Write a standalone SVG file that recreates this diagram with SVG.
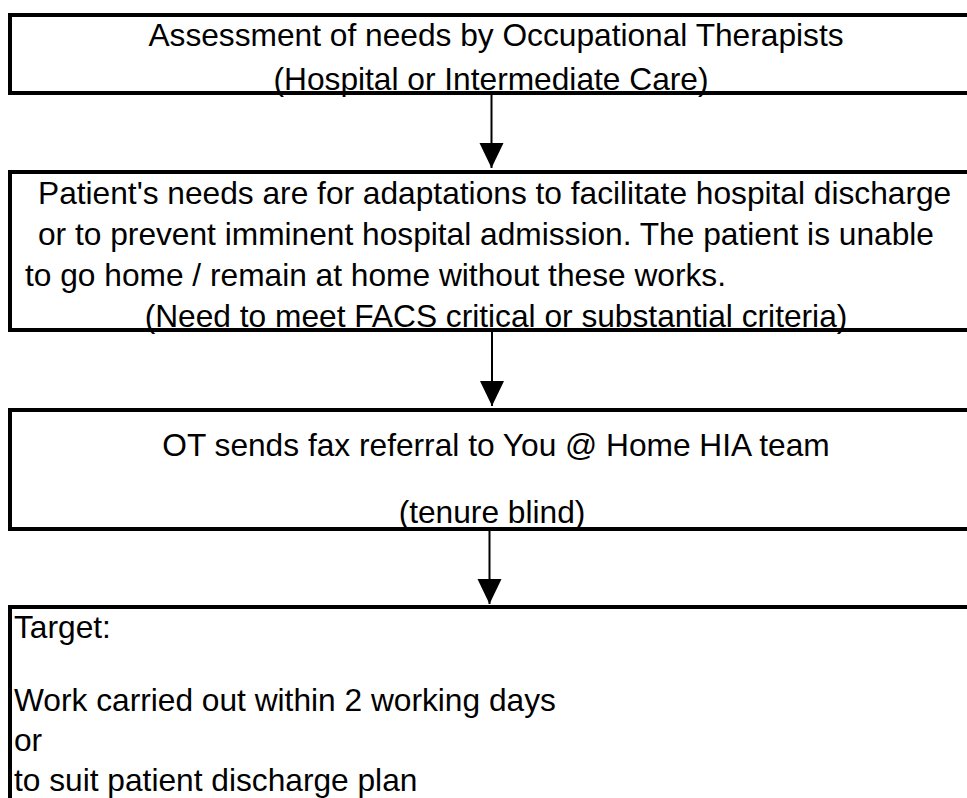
<svg xmlns="http://www.w3.org/2000/svg" width="967" height="798" viewBox="0 0 967 798">
<defs>
<style>
.box{fill:#ffffff;stroke:#000000;stroke-width:4}
.t{font-family:"Liberation Sans",Arial,sans-serif;font-size:31.7px;fill:#000000}
.c{text-anchor:middle}
.conn{stroke:#000000;stroke-width:2;fill:none}
</style>
<marker id="arr" markerUnits="userSpaceOnUse" markerWidth="26" markerHeight="26" refX="25" refY="12" orient="auto" viewBox="0 0 26 24">
<path d="M0,0 L25,12 L0,24 Z" fill="#000000"/>
</marker>
</defs>
<rect width="967" height="798" fill="#ffffff"/>
<g id="node1">
<rect class="box" x="10" y="15" width="1000" height="78"/>
<text class="t c" x="496" y="46">Assessment of needs by Occupational Therapists</text>
<text class="t c" x="491" y="90">(Hospital or Intermediate Care)</text>
</g>
<g id="node2">
<rect class="box" x="10" y="172" width="1000" height="158"/>
<text class="t" x="38" y="204">Patient's needs are for adaptations to facilitate hospital discharge</text>
<text class="t" x="38" y="245">or to prevent imminent hospital admission. The patient is unable</text>
<text class="t" x="25" y="286">to go home / remain at home without these works.</text>
<text class="t c" x="496" y="327">(Need to meet FACS critical or substantial criteria)</text>
</g>
<g id="node3">
<rect class="box" x="10" y="410" width="1000" height="119"/>
<text class="t c" x="496" y="456">OT sends fax referral to You @ Home HIA team</text>
<text class="t c" x="492" y="523">(tenure blind)</text>
</g>
<g id="node4">
<rect class="box" x="10" y="607" width="1000" height="220"/>
<text class="t" x="14" y="638">Target:</text>
<text class="t" x="14" y="711">Work carried out within 2 working days</text>
<text class="t" x="14" y="751">or</text>
<text class="t" x="14" y="791">to suit patient discharge plan</text>
</g>
<g id="connectors">
<line class="conn" x1="491.5" y1="95" x2="491.5" y2="168" marker-end="url(#arr)"/>
<line class="conn" x1="492" y1="332" x2="492" y2="406" marker-end="url(#arr)"/>
<line class="conn" x1="489.5" y1="531" x2="489.5" y2="604" marker-end="url(#arr)"/>
</g>
</svg>
